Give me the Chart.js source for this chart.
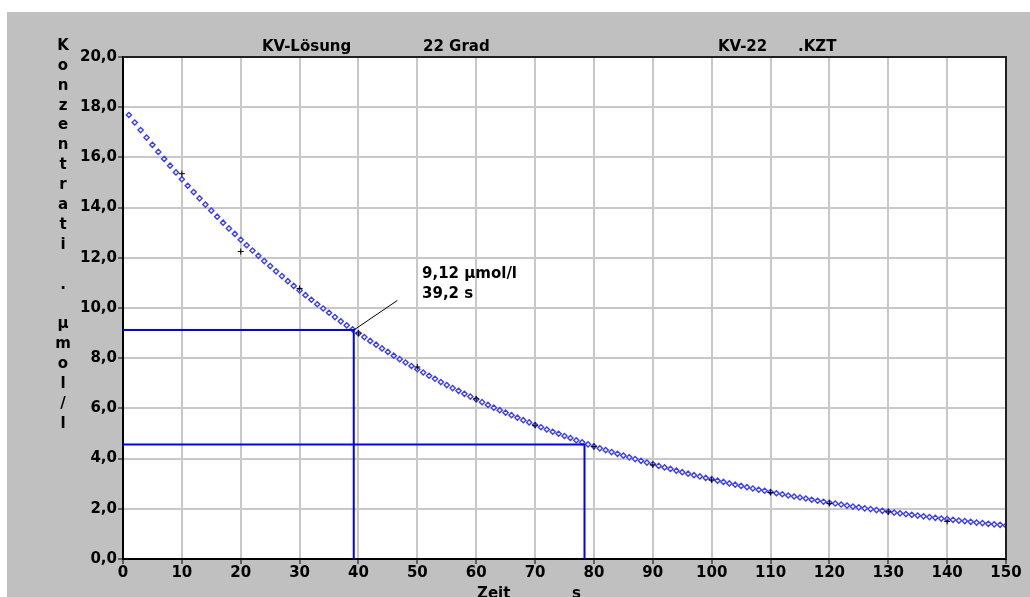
<!DOCTYPE html>
<html>
<head>
<meta charset="utf-8">
<script src="https://cdn.jsdelivr.net/npm/chart.js@4/dist/chart.umd.min.js"></script>
<style>
  html, body { margin: 0; padding: 0; background: #fff; }
  canvas { display: block; }
</style>
</head>
<body>
<canvas id="graph" width="1030" height="597"></canvas>
<script>
const ctx = document.getElementById("graph").getContext("2d")

// fitted curve, one point per second from 1 s to 150 s
const curveTimes = Array.from({ length: 150 }, (_, i) => i + 1)
const curveValues = [
  17.69, 17.39, 17.09, 16.79, 16.50, 16.22, 15.94, 15.67, 15.40, 15.13,
  14.87, 14.62, 14.37, 14.12, 13.88, 13.64, 13.40, 13.17, 12.95, 12.72,
  12.50, 12.29, 12.08, 11.87, 11.67, 11.46, 11.27, 11.07, 10.88, 10.70,
  10.51, 10.33, 10.15, 9.98, 9.81, 9.64, 9.47, 9.31, 9.15, 8.99,
  8.84, 8.69, 8.54, 8.39, 8.25, 8.10, 7.96, 7.83, 7.69, 7.56,
  7.43, 7.30, 7.18, 7.05, 6.93, 6.81, 6.70, 6.58, 6.47, 6.36,
  6.25, 6.14, 6.03, 5.93, 5.83, 5.73, 5.63, 5.53, 5.44, 5.34,
  5.25, 5.16, 5.07, 4.99, 4.90, 4.82, 4.73, 4.65, 4.57, 4.49,
  4.41, 4.34, 4.26, 4.19, 4.12, 4.05, 3.98, 3.91, 3.84, 3.78,
  3.71, 3.65, 3.59, 3.52, 3.46, 3.40, 3.34, 3.29, 3.23, 3.18,
  3.12, 3.07, 3.01, 2.96, 2.91, 2.86, 2.81, 2.76, 2.72, 2.67,
  2.62, 2.58, 2.53, 2.49, 2.45, 2.41, 2.36, 2.32, 2.28, 2.24,
  2.21, 2.17, 2.13, 2.09, 2.06, 2.02, 1.99, 1.95, 1.92, 1.89,
  1.85, 1.82, 1.79, 1.76, 1.73, 1.70, 1.67, 1.64, 1.61, 1.59,
  1.56, 1.53, 1.51, 1.48, 1.45, 1.43, 1.40, 1.38, 1.36, 1.33
]

// measured points
const measTimes = [10, 20, 30, 40, 50, 60, 70, 80, 90, 100, 110, 120, 130, 140]
const measValues = [15.35, 12.25, 10.78, 9.0, 7.65, 6.38, 5.33, 4.48, 3.75, 3.15, 2.65, 2.22, 1.88, 1.5]

// half-life read-off: 9,12 at 39,2 s and half of it at 78,4 s
const halfTimes = [39.2, 78.4]
const halfValues = [9.12, 4.56]

const xTicks = { min: 0, max: 150, step: 10 }
const yTicks = { min: 0, max: 20, step: 2 }

const titleParts = ["KV-Lösung", "22 Grad", "KV-22", ".KZT"]
const yLabel = "Konzentrati . µmol/l"
const xLabel = ["Zeit", "s"]
const noteLines = ["9,12 µmol/l", "39,2 s"]

const FONT = "DejaVu Sans"
const toPts = (xs, ys) => xs.map((x, i) => ({ x: x, y: ys[i] }))

const guide = (t, v) => [{ x: 0, y: v }, { x: t, y: v }, { x: t, y: 0 }]

const data = {
    datasets: [
        {
            data: [{ x: halfTimes[0], y: halfValues[0] }, { x: 46.6, y: 10.3 }],
            showLine: true, borderColor: "#000", borderWidth: 1, pointRadius: 0
        },
        {
            data: guide(halfTimes[0], halfValues[0]),
            showLine: true, borderColor: "#0000ff", borderWidth: 2, pointRadius: 0
        },
        {
            data: guide(halfTimes[1], halfValues[1]),
            showLine: true, borderColor: "#0000ff", borderWidth: 2, pointRadius: 0
        },
        {
            data: toPts(measTimes, measValues),
            pointStyle: "cross", pointRadius: 3, borderColor: "#000", borderWidth: 1
        },
        {
            data: toPts(curveTimes, curveValues),
            pointStyle: "rectRot", pointRadius: 2.6, borderWidth: 1.4,
            borderColor: "#3c3cff", backgroundColor: "#fff"
        }
    ]
}

const background = {
    id: "background",
    beforeDraw(chart) {
        const c = chart.ctx, a = chart.chartArea
        c.save()
        c.fillStyle = "#fff"
        c.fillRect(0, 0, chart.width, chart.height)
        c.fillStyle = "#c0c0c0"
        c.fillRect(7, 12, chart.width - 7, chart.height - 12)
        c.fillStyle = "#fff"
        c.fillRect(a.left, a.top, a.right - a.left, a.bottom - a.top)
        c.restore()
    }
}

const texts = {
    id: "texts",
    afterDraw(chart) {
        const c = chart.ctx, a = chart.chartArea
        const x = chart.scales.x, y = chart.scales.y
        c.save()
        // frame top and right
        c.strokeStyle = "#202020"
        c.lineWidth = 2
        c.beginPath()
        c.moveTo(a.left, a.top)
        c.lineTo(a.right, a.top)
        c.lineTo(a.right, a.bottom)
        c.stroke()

        c.fillStyle = "#000"
        c.font = "bold 15px " + FONT
        c.textBaseline = "alphabetic"
        c.textAlign = "left"
        c.fillText(titleParts[0], 262, 51)
        c.fillText(titleParts[1], 423, 51)
        c.fillText(titleParts[2], 718, 51)
        c.fillText(titleParts[3], 798, 51)

        // note beside the read-off point
        c.fillText(noteLines[0], x.getPixelForValue(50.8), y.getPixelForValue(11.2))
        c.fillText(noteLines[1], x.getPixelForValue(50.8), y.getPixelForValue(10.4))

        // x axis title
        c.fillText(xLabel[0], 477, 598)
        c.fillText(xLabel[1], 572, 598)

        // y axis title, one letter per line
        c.textAlign = "center"
        c.textBaseline = "middle"
        for (let i = 0; i < yLabel.length; i++) {
            c.fillText(yLabel[i], 63, 46 + i * 19.9)
        }
        c.restore()
    }
}

const tickFont = { family: FONT, weight: "bold", size: 15 }

const config = {
    type: "scatter",
    data: data,
    options: {
        responsive: false,
        animation: false,
        layout: { padding: { left: 7, top: 57, right: 24, bottom: 0 } },
        plugins: { legend: { display: false }, tooltip: { enabled: false } },
        scales: {
            x: {
                type: "linear",
                min: xTicks.min, max: xTicks.max,
                afterFit: s => { s.height = 38 },
                ticks: { stepSize: xTicks.step, color: "#000", font: tickFont, padding: 0, maxRotation: 0, autoSkip: false },
                grid: { color: "#c8c8c8", lineWidth: 2, tickColor: "#000", tickLength: 5, tickWidth: 1 },
                border: { color: "#000", width: 2 }
            },
            y: {
                min: yTicks.min, max: yTicks.max,
                afterFit: s => { s.width = 116 },
                ticks: {
                    stepSize: yTicks.step, color: "#000", font: tickFont, padding: 1,
                    callback: v => v.toFixed(1).replace(".", ",")
                },
                grid: { color: "#c8c8c8", lineWidth: 2, tickColor: "#000", tickLength: 5, tickWidth: 1 },
                border: { color: "#000", width: 2 }
            }
        }
    },
    plugins: [background, texts]
}

const graph = new Chart(ctx, config)
</script>
</body>
</html>
